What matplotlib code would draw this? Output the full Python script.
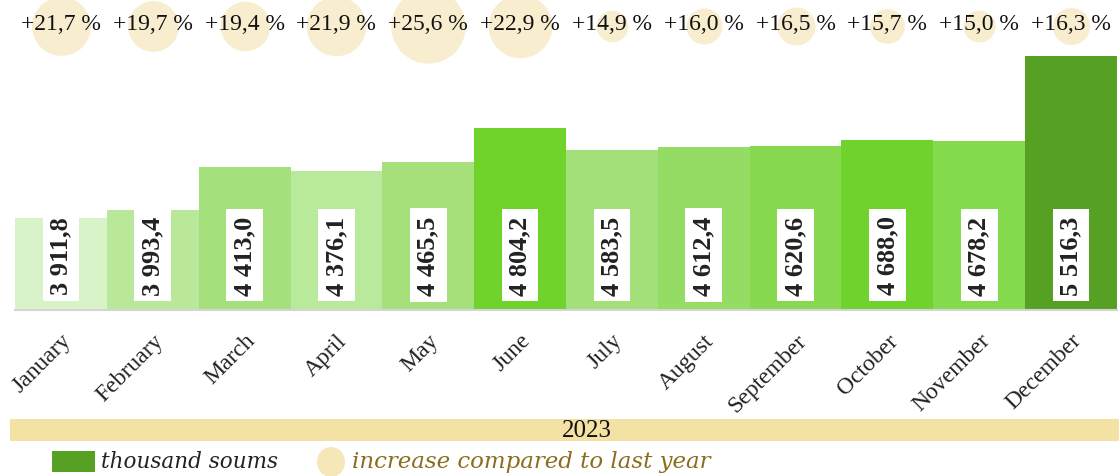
import matplotlib
matplotlib.use("Agg")
import matplotlib.pyplot as plt
from matplotlib.patches import Rectangle, Ellipse
import matplotlib.transforms as mtransforms

months = ["January", "February", "March", "April", "May", "June", "July",
          "August", "September", "October", "November", "December"]
wages = [3911.8, 3993.4, 4413.0, 4376.1, 4465.5, 4804.2, 4583.5,
         4612.4, 4620.6, 4688.0, 4678.2, 5516.3]
growth = [21.7, 19.7, 19.4, 21.9, 25.6, 22.9, 14.9, 16.0, 16.5, 15.7, 15.0, 16.3]
year = "2023"

bar_colors = ["#d8f3c8", "#b9e89a", "#a4e07b", "#b9e99b", "#a5e07a", "#6fd32b",
              "#a3e07a", "#94dc64", "#86d94e", "#70d22d", "#85d94c", "#56a124"]
bubble_color = "#f8eecf"
band_color = "#f4e2a5"

W, H = 1119, 477
fig = plt.figure(figsize=(W / 100, H / 100), dpi=100)
ax = fig.add_axes([15 / W, 166 / H, 1102 / W, 311 / H])

x = list(range(len(months)))
ax.bar(x, wages, width=1.0, color=bar_colors, zorder=2)
ax.set_xlim(-0.5, 11.5)
ax.set_ylim(3000, 6080)
for s in ["top", "right", "left"]:
    ax.spines[s].set_visible(False)
ax.spines["bottom"].set_color("#d4d4d4")
ax.spines["bottom"].set_linewidth(1.5)
ax.set_yticks([])
ax.set_xticks(x)
ax.set_xticklabels(months, rotation=45, ha="right", va="top", rotation_mode="anchor",
                   family="Liberation Serif", fontsize=17, color="#222222")
ax.tick_params(axis="x", length=0, pad=14)

blend = mtransforms.blended_transform_factory(ax.transData, ax.transAxes)

# value labels in white boxes
for i, v in enumerate(wages):
    label = f"{v:,.1f}".replace(",", " ").replace(".", ",")
    ax.text(i, 55 / 311, label, transform=blend, rotation=90, ha="center", va="center",
            family="Liberation Serif", fontweight="bold", fontsize=19, color="#222222",
            zorder=4, bbox=dict(facecolor="white", edgecolor="none", pad=5))

# growth bubbles + percent labels at top
for i, g in enumerate(growth):
    d = 4.0 * g - 28  # bubble diameter in px from growth value
    ax.scatter([i], [(311 - 27) / 311], s=(d * 0.72) ** 2, color=bubble_color,
               transform=blend, clip_on=False, zorder=1, linewidths=0)
    ax.text(i, (311 - 25) / 311, f"+{g:.1f} %".replace(".", ","), transform=blend,
            ha="center", va="center", family="Liberation Serif", fontsize=17,
            color="#111111", zorder=5)

# year band
fig.add_artist(Rectangle((10 / W, 35 / H), 1109 / W, 22 / H, transform=fig.transFigure,
                         facecolor=band_color, edgecolor="none"))
fig.text(587 / W, 46 / H, year, ha="center", va="center", family="Liberation Serif",
         fontsize=18, color="#111111")

# legend
fig.add_artist(Rectangle((52 / W, 4 / H), 43 / W, 21 / H, transform=fig.transFigure,
                         facecolor="#56a124", edgecolor="none"))
fig.text(101 / W, 15 / H, "thousand soums", ha="left", va="center", family="DejaVu Serif",
         style="italic", fontsize=15.5, color="#222222")
fig.add_artist(Ellipse((331 / W, 14 / H), 28 / W, 30 / H, transform=fig.transFigure,
                       facecolor="#f6e7b8", edgecolor="none"))
fig.text(352 / W, 15 / H, "increase compared to last year", ha="left", va="center",
         family="DejaVu Serif", style="italic", fontsize=16.5, color="#8a6d1e")

fig.savefig("out.png", dpi=100)
